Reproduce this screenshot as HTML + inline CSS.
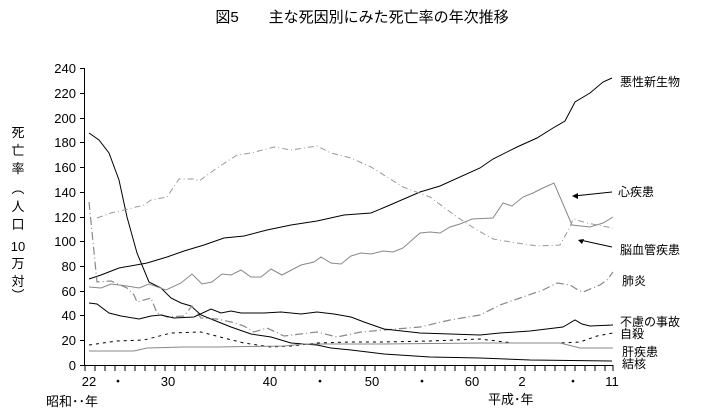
<!DOCTYPE html>
<html><head><meta charset="utf-8"><style>
html,body{margin:0;padding:0;background:#fff;}
svg{display:block;font-family:"Liberation Sans","Noto Sans CJK JP",sans-serif;}
</style></head><body>
<svg width="724" height="420" viewBox="0 0 724 420" xmlns="http://www.w3.org/2000/svg">
<text x="362" y="22" font-size="15" text-anchor="middle" fill="#000">図5　　主な死因別にみた死亡率の年次推移</text>
<line x1="84.5" y1="68" x2="84.5" y2="366" stroke="#000"/>
<line x1="84" y1="365.5" x2="613" y2="365.5" stroke="#000"/>
<g stroke="#000">
<line x1="80" y1="365.5" x2="84" y2="365.5"/><line x1="80" y1="340.5" x2="84" y2="340.5"/><line x1="80" y1="315.5" x2="84" y2="315.5"/><line x1="80" y1="291.5" x2="84" y2="291.5"/><line x1="80" y1="266.5" x2="84" y2="266.5"/><line x1="80" y1="241.5" x2="84" y2="241.5"/><line x1="80" y1="217.5" x2="84" y2="217.5"/><line x1="80" y1="192.5" x2="84" y2="192.5"/><line x1="80" y1="167.5" x2="84" y2="167.5"/><line x1="80" y1="142.5" x2="84" y2="142.5"/><line x1="80" y1="118.5" x2="84" y2="118.5"/><line x1="80" y1="93.5" x2="84" y2="93.5"/><line x1="80" y1="68.5" x2="84" y2="68.5"/>
</g>
<g font-size="13" text-anchor="end" fill="#000">
<text x="76" y="370">0</text><text x="76" y="345">20</text><text x="76" y="320">40</text><text x="76" y="296">60</text><text x="76" y="271">80</text><text x="76" y="246">100</text><text x="76" y="222">120</text><text x="76" y="197">140</text><text x="76" y="172">160</text><text x="76" y="147">180</text><text x="76" y="123">200</text><text x="76" y="98">220</text><text x="76" y="73">240</text>
</g>
<path d="M85 365v6M95 365v6M105 365v6M115 365v6M125 365v6M135 365v6M145 365v6M155 365v6M165 365v6M175 365v6M185 365v6M195 365v6M205 365v6M215 365v6M225 365v6M235 365v6M245 365v6M255 365v6M265 365v6M275 365v6M285 365v6M295 365v6M305 365v6M315 365v6M325 365v6M335 365v6M345 365v6M355 365v6M365 365v6M375 365v6M385 365v6M395 365v6M405 365v6M415 365v6M425 365v6M435 365v6M445 365v6M455 365v6M465 365v6M475 365v6M485 365v6M495 365v6M505 365v6M515 365v6M525 365v6M535 365v6M545 365v6M555 365v6M565 365v6M575 365v6M585 365v6M595 365v6M605 365v6M613 365v6" stroke="#000"/>
<g font-size="13" text-anchor="middle" fill="#000">
<text x="89" y="386">22</text><text x="118" y="386">・</text><text x="168" y="386">30</text><text x="270" y="386">40</text><text x="320" y="386">・</text><text x="372" y="386">50</text><text x="422" y="386">・</text><text x="472" y="386">60</text><text x="522" y="386">2</text><text x="573" y="386">・</text><text x="612" y="386">11</text>
</g>
<text x="46" y="406" font-size="13" fill="#000">昭和･･年</text>
<text x="488" y="404" font-size="13" fill="#000">平成･年</text>
<g font-size="13" fill="#000" text-anchor="middle">
<text x="18" y="137">死</text><text x="18" y="155">亡</text><text x="18" y="173">率</text>
<text x="18" y="193">︵</text><text x="18" y="211">人</text><text x="18" y="229">口</text>
<text x="18" y="251">10</text><text x="18" y="268">万</text><text x="18" y="286">対</text><text x="18" y="300">︶</text>
</g>
<g fill="none" stroke-width="1">
<polyline stroke="#000" points="89,279 101,275 119,268 147,263 167,257 184,251 204,245 224,238 244,236 267,230 291,225 317,221 344,215 371,213 390,205 420,192 440,186 480,168 493,159 517,147 537,138 553,128 565,121 575,102 590,93 603,82 612,78"/>
<polyline stroke="#000" points="89,133 99,140 109,153 119,180 127,217 137,253 149,282 161,288 171,298 181,303 191,306 201,315 211,319 231,327 251,334 271,337 291,343 317,345 331,348 351,350 384,354 430,357 480,358 530,360 612,361"/>
<polyline stroke="#888" points="89,287 101,288 111,284 127,286 139,288 149,284 166,290 181,283 192,274 202,284 212,282 222,274 231,275 241,270 251,277 261,277 271,269 282,275 301,265 314,262 321,257 331,263 341,264 351,256 361,253 371,254 383,251 393,252 403,248 420,233 430,232 440,233 450,227 460,224 472,219 493,218 503,203 512,206 523,197 533,193 543,188 554,183 572,225 590,227 603,223 613,217"/>
<polyline stroke="#999" stroke-dasharray="6,3,1,3" points="97,218 111,213 124,210 144,205 151,200 167,197 179,179 194,179 199,181 217,168 237,155 251,153 274,147 291,150 317,146 331,153 351,158 371,167 403,187 430,197 457,217 477,230 493,239 517,243 537,246 560,245 570,227 573,219 587,223 613,228"/>
<polyline stroke="#888" stroke-dasharray="8,3,1,3" stroke-width="1.2" points="89,202 97,282 111,281 127,288 134,295 137,302 151,298 157,313 167,317 184,316 192,306 201,318 217,319 231,322 244,326 254,332 267,328 284,336 317,332 337,337 361,332 384,330 420,327 450,320 480,315 500,305 520,298 543,290 557,283 570,285 578,290 583,292 600,285 607,280 613,272"/>
<polyline stroke="#000" points="89,303 97,304 109,313 121,316 139,319 151,316 161,315 174,318 194,317 211,309 221,313 231,311 241,313 264,313 281,312 301,314 317,312 334,314 351,317 364,322 384,329 420,333 450,334 480,335 500,333 530,331 563,327 575,320 582,324 590,326 613,325"/>
<polyline stroke="#000" stroke-dasharray="3,4" points="89,345 117,341 144,340 171,333 201,332 224,338 244,343 271,347 291,346 317,343 351,342 384,342 430,341 480,339 513,343 560,343 580,342 597,336 613,333"/>
<polyline stroke="#888" points="89,351 117,351 134,351 147,348 184,347 217,347 284,346 304,344 384,344 480,343 560,343 580,348 613,348"/>
</g>
<line x1="612" y1="192" x2="574" y2="196" stroke="#000"/>
<path d="M572 196 l6 -3 l0 6z" fill="#000"/>
<line x1="612" y1="247" x2="580" y2="240" stroke="#000"/>
<path d="M578 240 l6 -1 l-2 5z" fill="#000"/>
<g font-size="12" fill="#000">
<text x="620" y="86">悪性新生物</text>
<text x="618" y="196">心疾患</text>
<text x="620" y="254">脳血管疾患</text>
<text x="622" y="285">肺炎</text>
<text x="620" y="326">不慮の事故</text>
<text x="620" y="338">自殺</text>
<text x="622" y="356">肝疾患</text>
<text x="622" y="368">結核</text>
</g>
</svg>
</body></html>
